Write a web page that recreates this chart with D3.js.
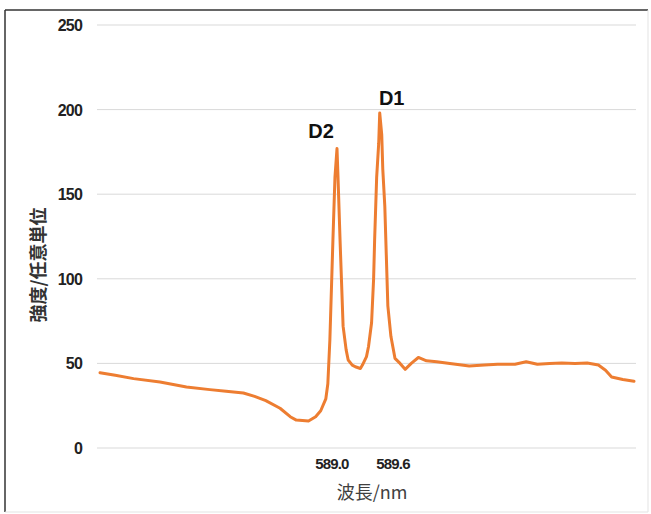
<!DOCTYPE html>
<html lang="ja">
<head>
<meta charset="UTF-8">
<script src="https://cdn.jsdelivr.net/npm/d3@7"></script>
<title>Na D lines</title>
<style>
  body { margin: 0; background: #fff; }
</style>
</head>
<body>
<script>
// wavelength (nm) and intensity
const wavelength = [586.72, 586.87, 587.05, 587.31, 587.57, 587.80, 587.96, 588.13, 588.24, 588.35,
  588.49, 588.59, 588.65, 588.77, 588.84, 588.89, 588.94, 588.96, 588.98, 589.01,
  589.03, 589.05, 589.06, 589.08, 589.11, 589.14, 589.16, 589.20, 589.23, 589.28,
  589.30, 589.34, 589.36, 589.39, 589.41, 589.42, 589.44, 589.46, 589.47, 589.49,
  589.50, 589.52, 589.55, 589.58, 589.62, 589.67, 589.72, 589.78, 589.85, 589.93,
  590.03, 590.16, 590.35, 590.50, 590.63, 590.80, 590.91, 591.02, 591.14, 591.26,
  591.39, 591.51, 591.62, 591.69, 591.75, 591.86, 591.97];
const intensity = [44.5, 43, 41, 39, 36, 34.5, 33.5, 32.5, 30.5, 28,
  23.5, 18.5, 16.5, 16, 18.5, 22, 29, 38, 64, 123,
  160, 177, 160, 123, 72, 58, 52, 49, 48, 47,
  49, 54, 60, 74, 100, 123, 160, 180, 198, 185,
  165, 143, 84, 66, 53, 50, 46.5, 50, 53.5, 51.5,
  51, 50, 48.5, 49, 49.5, 49.5, 51, 49.5, 50, 50.2,
  50, 50.2, 49, 46, 42, 40.5, 39.5];

const yTicks = [0, 50, 100, 150, 200, 250];
const xTickLabels = ["589.0", "589.6"];
const peakNames = ["D2", "D1"];
const peakAt = [589.05, 589.47];

const data = wavelength.map((w, i) => ({ w: w, v: intensity[i] }));

const W = 651, H = 514;
const svg = d3.select("body").append("svg")
  .attr("width", W)
  .attr("height", H);

// frame
svg.append("line").attr("x1", 5).attr("y1", 10).attr("x2", 648).attr("y2", 10)
  .attr("stroke", "#333").attr("stroke-width", 1.5);
svg.append("line").attr("x1", 5).attr("y1", 10).attr("x2", 5).attr("y2", 512)
  .attr("stroke", "#333").attr("stroke-width", 1.5);
svg.append("line").attr("x1", 648).attr("y1", 10).attr("x2", 648).attr("y2", 512)
  .attr("stroke", "#e3e3e3");
svg.append("line").attr("x1", 5).attr("y1", 512).attr("x2", 648).attr("y2", 512)
  .attr("stroke", "#e3e3e3");

const x = d3.scaleLinear().domain([586.72, 591.97]).range([100, 634]);
const y = d3.scaleLinear().domain([0, 250]).range([448, 25]);

// gridlines
svg.append("g").selectAll("line")
  .data(yTicks)
  .enter()
  .append("line")
  .attr("x1", 97).attr("x2", 636)
  .attr("y1", d => y(d)).attr("y2", d => y(d))
  .attr("stroke", "#d9d9d9").attr("stroke-width", 1);

// y tick labels
svg.append("g").selectAll("text")
  .data(yTicks)
  .enter()
  .append("text")
  .attr("x", 82)
  .attr("y", d => y(d) + 6)
  .attr("text-anchor", "end")
  .attr("font-family", "Liberation Sans, Arial, sans-serif")
  .attr("font-weight", "bold")
  .attr("font-size", 16)
  .attr("letter-spacing", -0.8)
  .attr("fill", "#222")
  .text(d => d);

// x tick labels (only the two lines)
svg.append("g").selectAll("text")
  .data(xTickLabels)
  .enter()
  .append("text")
  .attr("x", d => x(+d))
  .attr("y", 469)
  .attr("text-anchor", "middle")
  .attr("font-family", "Liberation Sans, Arial, sans-serif")
  .attr("font-weight", "bold")
  .attr("font-size", 15)
  .attr("letter-spacing", -0.8)
  .attr("fill", "#222")
  .text(d => d);

// the spectrum
const line = d3.line()
  .x(d => x(d.w))
  .y(d => y(d.v));

svg.append("path")
  .datum(data)
  .attr("d", line)
  .attr("fill", "none")
  .attr("stroke", "#ED7D31")
  .attr("stroke-width", 3)
  .attr("stroke-linejoin", "round")
  .attr("stroke-linecap", "round");

// peak names
svg.append("g").selectAll("text")
  .data(peakNames)
  .enter()
  .append("text")
  .attr("x", (d, i) => x(peakAt[i]) + (i === 0 ? -16 : 12))
  .attr("y", (d, i) => i === 0 ? 138 : 105)
  .attr("text-anchor", "middle")
  .attr("font-family", "Liberation Sans, Arial, sans-serif")
  .attr("font-weight", "bold")
  .attr("font-size", 20)
  .attr("fill", "#111")
  .text(d => d);

// axis titles
svg.append("text")
  .attr("x", 372)
  .attr("y", 499)
  .attr("text-anchor", "middle")
  .attr("font-family", "Noto Sans CJK JP, sans-serif")
  .attr("font-size", 18)
  .attr("fill", "#404040")
  .text("波長/nm");

svg.append("text")
  .attr("transform", "translate(45,265) rotate(-90)")
  .attr("text-anchor", "middle")
  .attr("font-family", "Noto Sans CJK JP, sans-serif")
  .attr("font-weight", "bold")
  .attr("font-size", 18)
  .attr("fill", "#333")
  .text("強度/任意単位");
</script>
</body>
</html>
